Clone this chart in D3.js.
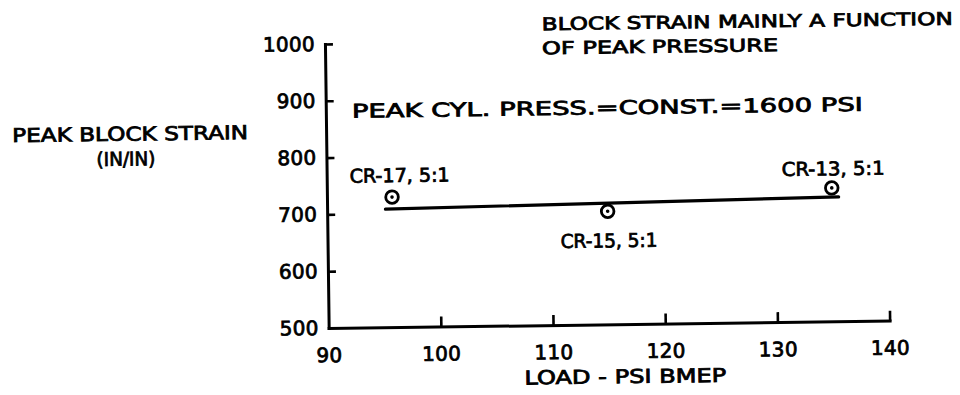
<!DOCTYPE html>
<html>
<head>
<meta charset="utf-8">
<script src="https://cdn.jsdelivr.net/npm/d3@7"></script>
<style>
  html, body { margin: 0; padding: 0; background: #fff; }
  svg { display: block; }
  text { font-family: "DejaVu Sans", sans-serif; fill: #000; stroke: #000; stroke-width: 0.8px; }
</style>
</head>
<body>
<svg id="chart" width="960" height="395"></svg>
<script>
// Peak block strain vs. load at constant peak cylinder pressure
const runLabels   = ["CR-17, 5:1", "CR-15, 5:1", "CR-13, 5:1"];
const loadBmep    = [95.8, 115, 135];      // psi BMEP
const blockStrain = [729, 699, 735];       // peak block strain
const fitLoad     = [95.2, 135.6];         // faired line end points
const fitStrain   = [708, 719];
const xTicks = [90, 100, 110, 120, 130, 140];
const yTicks = [500, 600, 700, 800, 900, 1000];

const svg = d3.select("#chart");
// the whole sheet sits slightly askew
const sheet = svg.append("g").attr("transform", "rotate(-0.75,480,200)");

const x = d3.scaleLinear().domain([90, 140]).range([327, 888]);
const y = d3.scaleLinear().domain([500, 1000]).range([326, 42]);

const FS = 19;

// y axis, ticks pointing into the plot
const yAxis = sheet.append("g")
  .attr("transform", `translate(${x(90)},0)`)
  .call(d3.axisLeft(y).tickValues(yTicks).tickFormat(d3.format("d"))
    .tickSizeInner(-8).tickSizeOuter(0).tickPadding(10));

// x axis, ticks pointing up
const xAxis = sheet.append("g")
  .attr("transform", `translate(0,${y(500)})`)
  .call(d3.axisBottom(x).tickValues(xTicks).tickFormat(d3.format("d"))
    .tickSizeInner(-10).tickSizeOuter(0).tickPadding(20));

[xAxis, yAxis].forEach(a => {
  a.select(".domain").attr("stroke", "#000").attr("stroke-width", 3).attr("stroke-linecap", "square");
  a.selectAll(".tick line").attr("stroke", "#000").attr("stroke-width", 2.6);
  a.selectAll(".tick text")
    .attr("font-family", "DejaVu Sans, sans-serif")
    .attr("font-size", 20)
    .style("letter-spacing", "0.3px");
});
xAxis.select(".tick:first-of-type line").remove();
yAxis.select(".tick:first-of-type line").remove();

// faired line through the runs
sheet.append("line")
  .attr("x1", x(fitLoad[0])).attr("y1", y(fitStrain[0]))
  .attr("x2", x(fitLoad[1])).attr("y2", y(fitStrain[1]))
  .attr("stroke", "#000").attr("stroke-width", 3.2).attr("stroke-linecap", "round");

// data points: open circle with centre dot
const pts = sheet.selectAll("g.pt").data(loadBmep.map((v, i) => ({ v, s: blockStrain[i] })))
  .enter().append("g").attr("class", "pt")
  .attr("transform", d => `translate(${x(d.v)},${y(d.s)})`);
pts.append("circle").attr("r", 6.3).attr("fill", "#fff").attr("stroke", "#000").attr("stroke-width", 2.8);
pts.append("circle").attr("r", 1.8).attr("fill", "#000");

// text helper: position and stretched width
function label(str, x0, base, w, size) {
  sheet.append("text")
    .attr("x", x0).attr("y", base)
    .attr("font-size", size || FS)
    .attr("textLength", w).attr("lengthAdjust", "spacingAndGlyphs")
    .text(str);
}

// run labels
const runPos = [[350, 181, 100], [560, 249, 97], [782, 180, 103]];
runLabels.forEach((t, i) => label(t, runPos[i][0], runPos[i][1], runPos[i][2]));

// notes and axis titles
label("BLOCK STRAIN MAINLY A FUNCTION", 544, 31, 411, 17.5);
label("OF PEAK PRESSURE", 544, 55, 236, 17.5);
label("PEAK CYL. PRESS.=CONST.=1600 PSI", 353, 116, 511);
label("PEAK BLOCK STRAIN", 13, 136, 236);
label("(IN/IN)", 97, 161, 59);
label("LOAD - PSI BMEP", 522, 385, 202);
</script>
</body>
</html>
